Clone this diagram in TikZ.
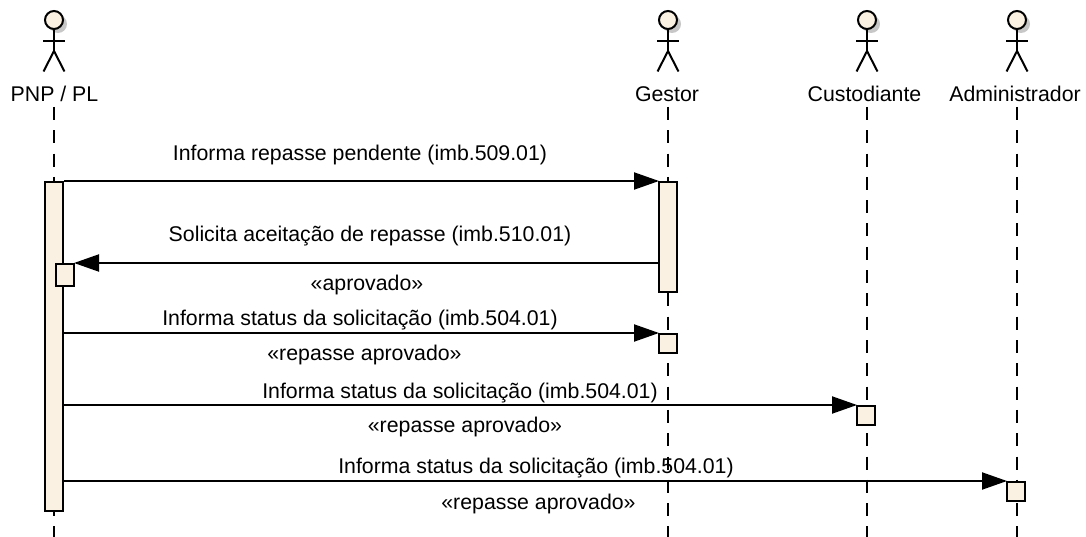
\documentclass[tikz,border=0pt]{standalone}
\usepackage{fontspec}
\usepackage{xcolor}
\setmainfont{Liberation Sans}
\usetikzlibrary{positioning,calc,shadows,arrows.meta}
\definecolor{barfill}{HTML}{FBF1E3}
\tikzset{
    head/.style={circle,draw,line width=2pt,fill=barfill,minimum size=18pt,inner sep=0pt,
        drop shadow={shadow xshift=4pt,shadow yshift=-4pt,fill=black!22,opacity=1}},
    stick/.style={line width=2pt},
    lifeline/.style={line width=2pt,dash pattern=on 13pt off 10.3pt},
    bar/.style={rectangle,draw,line width=2pt,fill=barfill,minimum width=18pt,inner sep=0pt},
    msg/.style={line width=2pt,-{Triangle[length=25pt,width=17pt]},shorten >=-1pt},
    txt/.style={anchor=base,inner sep=0pt,font=\fontsize{21.3}{24}\selectfont}
}

\begin{document}
\begin{tikzpicture}[x=1pt,y=-1pt,on grid,node distance=100pt]
    \useasboundingbox (0,0) rectangle (1086,537);
    \node [head] at (54,20) (pnp) {};
    \node [head,right=614pt of pnp] (gestor) {};
    \node [head,right=199pt of gestor] (custodiante) {};
    \node [head,right=150pt of custodiante] (admin) {};

    \node [txt] at (54.5,102) (pnplabel) {PNP / PL};
    \node [txt] at (667,102) (gestorlabel) {Gestor};
    \node [txt] at (864.5,102) (custodiantelabel) {Custodiante};
    \node [txt] at (1015,102) (adminlabel) {Administrador};

    \foreach \name in {pnp,gestor,custodiante,admin} {
        \coordinate [below=31pt of \name] (\name hip);
        \coordinate [below=87pt of \name] (\name top);
        \coordinate [below=517pt of \name] (\name end);
        \draw [stick] (\name.south) -- (\name hip);
        \draw [stick] ($(\name)+(-11,21)$) -- ($(\name)+(11,21)$);
        \draw [stick] ($(\name hip)+(-10.5,20.5)$) -- (\name hip) -- ($(\name hip)+(10.5,20.5)$);
        \draw [lifeline] (\name top) -- (\name end);
    }

    \node [bar,minimum height=329pt,anchor=north] at (54,181) (pnpbar) {};
    \node [bar,minimum height=110pt,anchor=north] at (668,181) (gestorbar) {};
    \node [bar,minimum height=22pt,anchor=north west] at (55,263) (pnpreply) {};
    \node [bar,minimum height=19pt,anchor=north] at (668,333) (gestorack) {};
    \node [bar,minimum height=19pt,anchor=north] at (866,405) (custodianteack) {};
    \node [bar,minimum height=19pt,anchor=north] at (1016,481) (adminack) {};

    \draw [msg] (pnpbar.east |- gestorbar.north) -- (gestorbar.north west);
    \draw [msg] (gestorbar.west |- pnpreply.north) -- (pnpreply.north east);
    \draw [msg] (pnpbar.east |- gestorack.north) -- (gestorack.north west);
    \draw [msg] (pnpbar.east |- custodianteack.north) -- (custodianteack.north west);
    \draw [msg] (pnpbar.east |- adminack.north) -- (adminack.north west);

    \node [txt] at (360,161) (msga) {Informa repasse pendente (imb.509.01)};
    \node [txt] at (370,242) (msgb) {Solicita aceitação de repasse (imb.510.01)};
    \node [txt] at (367,290) (condb) {«aprovado»};
    \node [txt] at (360,325) (msgc) {Informa status da solicitação (imb.504.01)};
    \node [txt] at (364.5,360) (condc) {«repasse aprovado»};
    \node [txt] at (460,398) (msgd) {Informa status da solicitação (imb.504.01)};
    \node [txt] at (465,432) (condd) {«repasse aprovado»};
    \node [txt] at (536,473) (msge) {Informa status da solicitação (imb.504.01)};
    \node [txt] at (538.5,509) (conde) {«repasse aprovado»};
\end{tikzpicture}
\end{document}
